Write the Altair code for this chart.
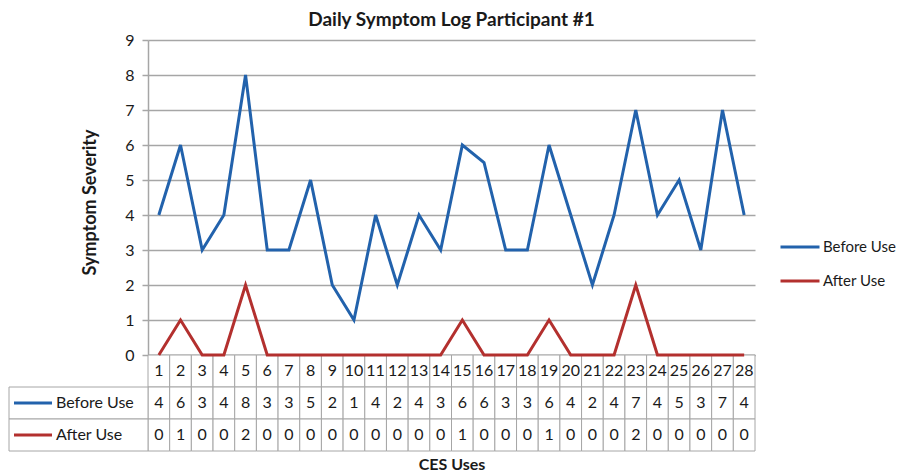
import altair as alt
import pandas as pd

# ---- data ----
uses = list(range(1, 29))
before_use = [4, 6, 3, 4, 8, 3, 3, 5, 2, 1, 4, 2, 4, 3, 6, 5.5, 3, 3, 6, 4, 2, 4, 7, 4, 5, 3, 7, 4]
after_use = [0, 1, 0, 0, 2, 0, 0, 0, 0, 0, 0, 0, 0, 0, 1, 0, 0, 0, 1, 0, 0, 0, 2, 0, 0, 0, 0, 0]
series_names = ["Before Use", "After Use"]
series_colors = ["#2262AC", "#B3302E"]
y_ticks = list(range(0, 10))

FONT = "Lato"
TXT = "#1a1a1a"
GRID = "#A6A6A6"

# ---- layout (pixels) ----
PW, PH = 607, 315
n = len(uses)
unit = PW / n


def px_to_x(px):  # px relative to plot left edge -> x data units
    return 0.5 + px / unit


ROW_RANGE = [PH, PH + 96]

# ---- frames ----
line_df = pd.DataFrame(
    {
        "use": uses * 2,
        "severity": before_use + after_use,
        "series": [series_names[0]] * n + [series_names[1]] * n,
    }
)

cells = []
for i, u in enumerate(uses):
    cells.append({"x0": u - 0.5, "x1": u + 0.5, "r0": 0, "r1": 1, "rc": 0.5, "xc": u, "label": str(u)})
    cells.append({"x0": u - 0.5, "x1": u + 0.5, "r0": 1, "r1": 2, "rc": 1.5, "xc": u,
                  "label": str(int(before_use[i] + 0.5))})
    cells.append({"x0": u - 0.5, "x1": u + 0.5, "r0": 2, "r1": 3, "rc": 2.5, "xc": u,
                  "label": str(int(after_use[i] + 0.5))})
cells_df = pd.DataFrame(cells)

left_x0 = px_to_x(9 - 148)
sym_x0 = px_to_x(14 - 148)
sym_x1 = px_to_x(52 - 148)
txt_x = px_to_x(56 - 148)
leg_df = pd.DataFrame(
    {
        "series": series_names,
        "x0": [left_x0] * 2,
        "x1": [0.5] * 2,
        "s0": [sym_x0] * 2,
        "s1": [sym_x1] * 2,
        "tx": [txt_x] * 2,
        "r0": [1, 2],
        "r1": [2, 3],
        "rc": [1.5, 2.5],
    }
)

xs = alt.Scale(domain=[0.5, n + 0.5], nice=False, zero=False)
ys_tab = alt.Scale(domain=[0, 3], range=ROW_RANGE, nice=False, zero=False)
color = alt.Color(
    "series:N",
    scale=alt.Scale(domain=series_names, range=series_colors),
    legend=alt.Legend(
        orient="none",
        legendX=631,
        legendY=186,
        title=None,
        symbolType="stroke",
        symbolSize=1521,
        symbolStrokeWidth=3,
        labelFontSize=15,
        labelFont=FONT,
        labelColor=TXT,
        labelOffset=2,
        rowPadding=5,
    ),
)

rects = alt.Chart(cells_df).mark_rect(fill="white", stroke=GRID, strokeWidth=1).encode(
    x=alt.X("x0:Q", scale=xs, title="CES Uses"),
    x2="x1",
    y=alt.Y("r0:Q", scale=ys_tab, axis=None),
    y2="r1",
)
texts = alt.Chart(cells_df).mark_text(font=FONT, fontSize=16, color=TXT).encode(
    x=alt.X("xc:Q", scale=xs, title="CES Uses"),
    y=alt.Y("rc:Q", scale=ys_tab, axis=None),
    text="label:N",
)
leg_rects = alt.Chart(leg_df).mark_rect(fill="white", stroke=GRID, strokeWidth=1).encode(
    x=alt.X("x0:Q", scale=xs, title="CES Uses"),
    x2="x1",
    y=alt.Y("r0:Q", scale=ys_tab, axis=None),
    y2="r1",
)
leg_syms = alt.Chart(leg_df).mark_rule(strokeWidth=3).encode(
    x=alt.X("s0:Q", scale=xs, title="CES Uses"),
    x2="s1",
    y=alt.Y("rc:Q", scale=ys_tab, axis=None),
    color=color,
)
leg_txt = alt.Chart(leg_df).mark_text(font=FONT, fontSize=16, color=TXT, align="left").encode(
    x=alt.X("tx:Q", scale=xs, title="CES Uses"),
    y=alt.Y("rc:Q", scale=ys_tab, axis=None),
    text="series:N",
)

lines = alt.Chart(line_df).mark_line(strokeWidth=3).encode(
    x=alt.X("use:Q", scale=xs, title="CES Uses"),
    y=alt.Y(
        "severity:Q",
        scale=alt.Scale(domain=[0, 9], nice=False, zero=False),
        axis=alt.Axis(
            orient="left",
            values=y_ticks,
            title="Symptom Severity",
            titleX=-58,
            titleY=162,
            titleBaseline="middle",
            titleFontSize=18,
            titleFontWeight="bold",
            titleFont=FONT,
            titleColor=TXT,
            labelFontSize=16,
            labelFont=FONT,
            labelColor=TXT,
            labelPadding=8,
            tickSize=6,
            tickColor=GRID,
            tickWidth=1.5,
            domainColor=GRID,
            domainWidth=1.5,
            grid=True,
            gridColor=GRID,
            gridWidth=1.5,
        ),
    ),
    color=color,
    detail="series:N",
)

chart = (
    alt.layer(rects, texts, leg_rects, leg_syms, leg_txt, lines)
    .resolve_scale(y="independent")
    .properties(
        width=PW,
        height=PH,
        autosize=alt.AutoSizeParams(type="none"),
        padding={"left": 140, "top": 32, "right": 145, "bottom": 117},
        title=alt.TitleParams(
            "Daily Symptom Log Participant #1",
            fontSize=19,
            fontWeight="bold",
            font=FONT,
            color=TXT,
            anchor="middle",
            offset=2,
        ),
    )
    .configure_view(stroke=None)
    .configure_axisX(
        labels=False,
        ticks=False,
        grid=False,
        domainColor=GRID,
        domainWidth=1.5,
        titleFont=FONT,
        titleFontSize=16,
        titleFontWeight="bold",
        titleColor=TXT,
        titlePadding=101,
    )
)

chart.save("out.html", embed_options={"renderer": "svg", "actions": False})
